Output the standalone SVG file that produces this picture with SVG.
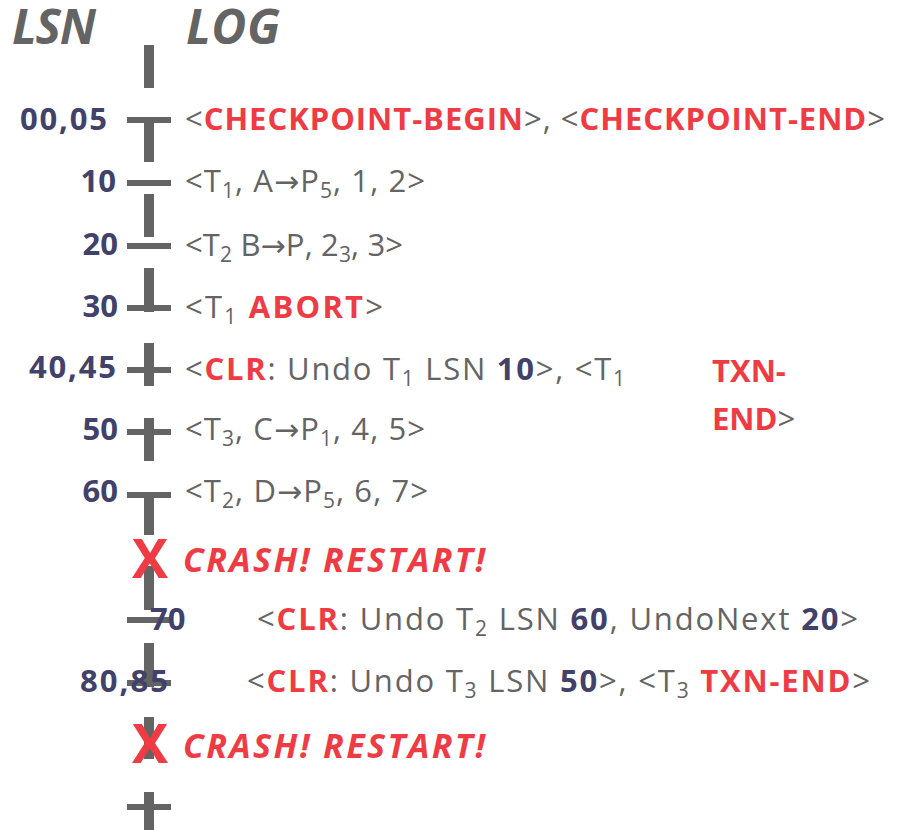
<svg xmlns="http://www.w3.org/2000/svg" width="907" height="830" viewBox="0 0 907 830">
<style>
.t{font-family:"Open Sans","Liberation Sans",sans-serif;font-size:31px;fill:#646464}
.r{fill:#EE3B44;font-weight:bold}
.n{fill:#41416A;font-weight:bold}
.a{font-family:"DejaVu Sans",sans-serif;font-size:30px}
.lbl{font-family:"Open Sans","Liberation Sans",sans-serif;font-size:31px;font-weight:bold;fill:#41416A}
.title{font-family:"Open Sans","Liberation Sans",sans-serif;font-size:48px;font-weight:bold;font-style:italic;fill:#646464}
.crash{font-family:"Open Sans","Liberation Sans",sans-serif;font-size:34px;font-weight:bold;font-style:italic;fill:#EE3B44}
.x{font-family:"Open Sans","Liberation Sans",sans-serif;font-size:54px;font-weight:bold;fill:#EE3B44}
.s{font-size:21px}
.bar{fill:#646464}
</style>
<text class="title" x="12" y="44" textLength="84">LSN</text>
<text class="title" x="186" y="44" textLength="94">LOG</text>
<g id="connectors">
<rect class="bar" x="144" y="45" width="10" height="43"/>
<rect class="bar" x="127" y="117" width="44" height="6"/>
<rect class="bar" x="144" y="120" width="10" height="42"/>
<rect class="bar" x="127" y="180" width="44" height="6"/>
<rect class="bar" x="144" y="194" width="10" height="43"/>
<rect class="bar" x="127" y="243" width="44" height="6"/>
<rect class="bar" x="144" y="268" width="10" height="44"/>
<rect class="bar" x="127" y="305" width="44" height="6"/>
<rect class="bar" x="144" y="343" width="10" height="43"/>
<rect class="bar" x="127" y="367" width="44" height="6"/>
<rect class="bar" x="144" y="418" width="10" height="43"/>
<rect class="bar" x="127" y="429" width="44" height="6"/>
<rect class="bar" x="127" y="492" width="44" height="6"/>
<rect class="bar" x="144" y="495" width="10" height="40"/>
<rect class="bar" x="144" y="566" width="10" height="44"/>
<rect class="bar" x="127" y="617" width="44" height="6"/>
<rect class="bar" x="144" y="643" width="10" height="44"/>
<rect class="bar" x="127" y="680" width="44" height="6"/>
<rect class="bar" x="144" y="717" width="10" height="42"/>
<rect class="bar" x="144" y="792" width="10" height="38"/>
<rect class="bar" x="127" y="804" width="44" height="6"/>
</g>
<g id="lsn-labels">
<text class="lbl" x="107" y="130" text-anchor="end" textLength="87">00,05</text>
<text class="lbl" x="116" y="192" text-anchor="end">10</text>
<text class="lbl" x="118" y="255" text-anchor="end">20</text>
<text class="lbl" x="118" y="317" text-anchor="end">30</text>
<text class="lbl" x="116" y="378" text-anchor="end" textLength="87">40,45</text>
<text class="lbl" x="118" y="440" text-anchor="end">50</text>
<text class="lbl" x="118" y="502" text-anchor="end">60</text>
<text class="lbl" x="150" y="630">70</text>
<text class="lbl" x="80" y="692" textLength="88">80,85</text>
</g>
<g id="rec-0005"><text class="t" x="185" y="130" textLength="700">&lt;<tspan class="r">CHECKPOINT-BEGIN</tspan>&gt;, &lt;<tspan class="r">CHECKPOINT-END</tspan>&gt;</text></g>
<g id="rec-10"><text class="t" x="185" y="192" textLength="240">&lt;T<tspan class="s" dy="6">1</tspan><tspan dy="-6">, A</tspan><tspan class="a">→</tspan>P<tspan class="s" dy="6">5</tspan><tspan dy="-6">, 1, 2&gt;</tspan></text></g>
<g id="rec-20"><text class="t" x="185" y="256" textLength="218">&lt;T<tspan class="s" dy="6">2</tspan><tspan dy="-6"> B</tspan><tspan class="a">→</tspan>P, 2<tspan class="s" dy="6">3</tspan><tspan dy="-6">, 3&gt;</tspan></text></g>
<g id="rec-30"><text class="t" x="185" y="318" textLength="198">&lt;T<tspan class="s" dy="6">1</tspan><tspan dy="-6"> </tspan><tspan class="r">ABORT</tspan>&gt;</text></g>
<g id="rec-4045"><text class="t" x="185" y="380" textLength="440">&lt;<tspan class="r">CLR</tspan>: Undo T<tspan class="s" dy="6">1</tspan><tspan dy="-6"> LSN </tspan><tspan class="n">10</tspan>&gt;, &lt;T<tspan class="s" dy="6">1</tspan></text>
<text class="t" x="712" y="382"><tspan class="r">TXN-</tspan></text>
<text class="t" x="712" y="430"><tspan class="r">END</tspan>&gt;</text></g>
<g id="rec-50"><text class="t" x="185" y="440" textLength="240">&lt;T<tspan class="s" dy="6">3</tspan><tspan dy="-6">, C</tspan><tspan class="a">→</tspan>P<tspan class="s" dy="6">1</tspan><tspan dy="-6">, 4, 5&gt;</tspan></text></g>
<g id="rec-60"><text class="t" x="185" y="502" textLength="243">&lt;T<tspan class="s" dy="6">2</tspan><tspan dy="-6">, D</tspan><tspan class="a">→</tspan>P<tspan class="s" dy="6">5</tspan><tspan dy="-6">, 6, 7&gt;</tspan></text></g>
<g id="crash-1"><text class="x" x="150" y="578" text-anchor="middle">X</text>
<text class="crash" x="183" y="572" textLength="302">CRASH!  RESTART!</text></g>
<g id="rec-70"><text class="t" x="257" y="630" textLength="601">&lt;<tspan class="r">CLR</tspan>: Undo T<tspan class="s" dy="6">2</tspan><tspan dy="-6"> LSN </tspan><tspan class="n">60</tspan>, UndoNext <tspan class="n">20</tspan>&gt;</text></g>
<g id="rec-8085"><text class="t" x="247" y="692" textLength="623">&lt;<tspan class="r">CLR</tspan>: Undo T<tspan class="s" dy="6">3</tspan><tspan dy="-6"> LSN </tspan><tspan class="n">50</tspan>&gt;, &lt;T<tspan class="s" dy="6">3</tspan><tspan dy="-6"> </tspan><tspan class="r">TXN-END</tspan>&gt;</text></g>
<g id="crash-2"><text class="x" x="150" y="763" text-anchor="middle">X</text>
<text class="crash" x="183" y="758" textLength="302">CRASH!  RESTART!</text></g>
</svg>
